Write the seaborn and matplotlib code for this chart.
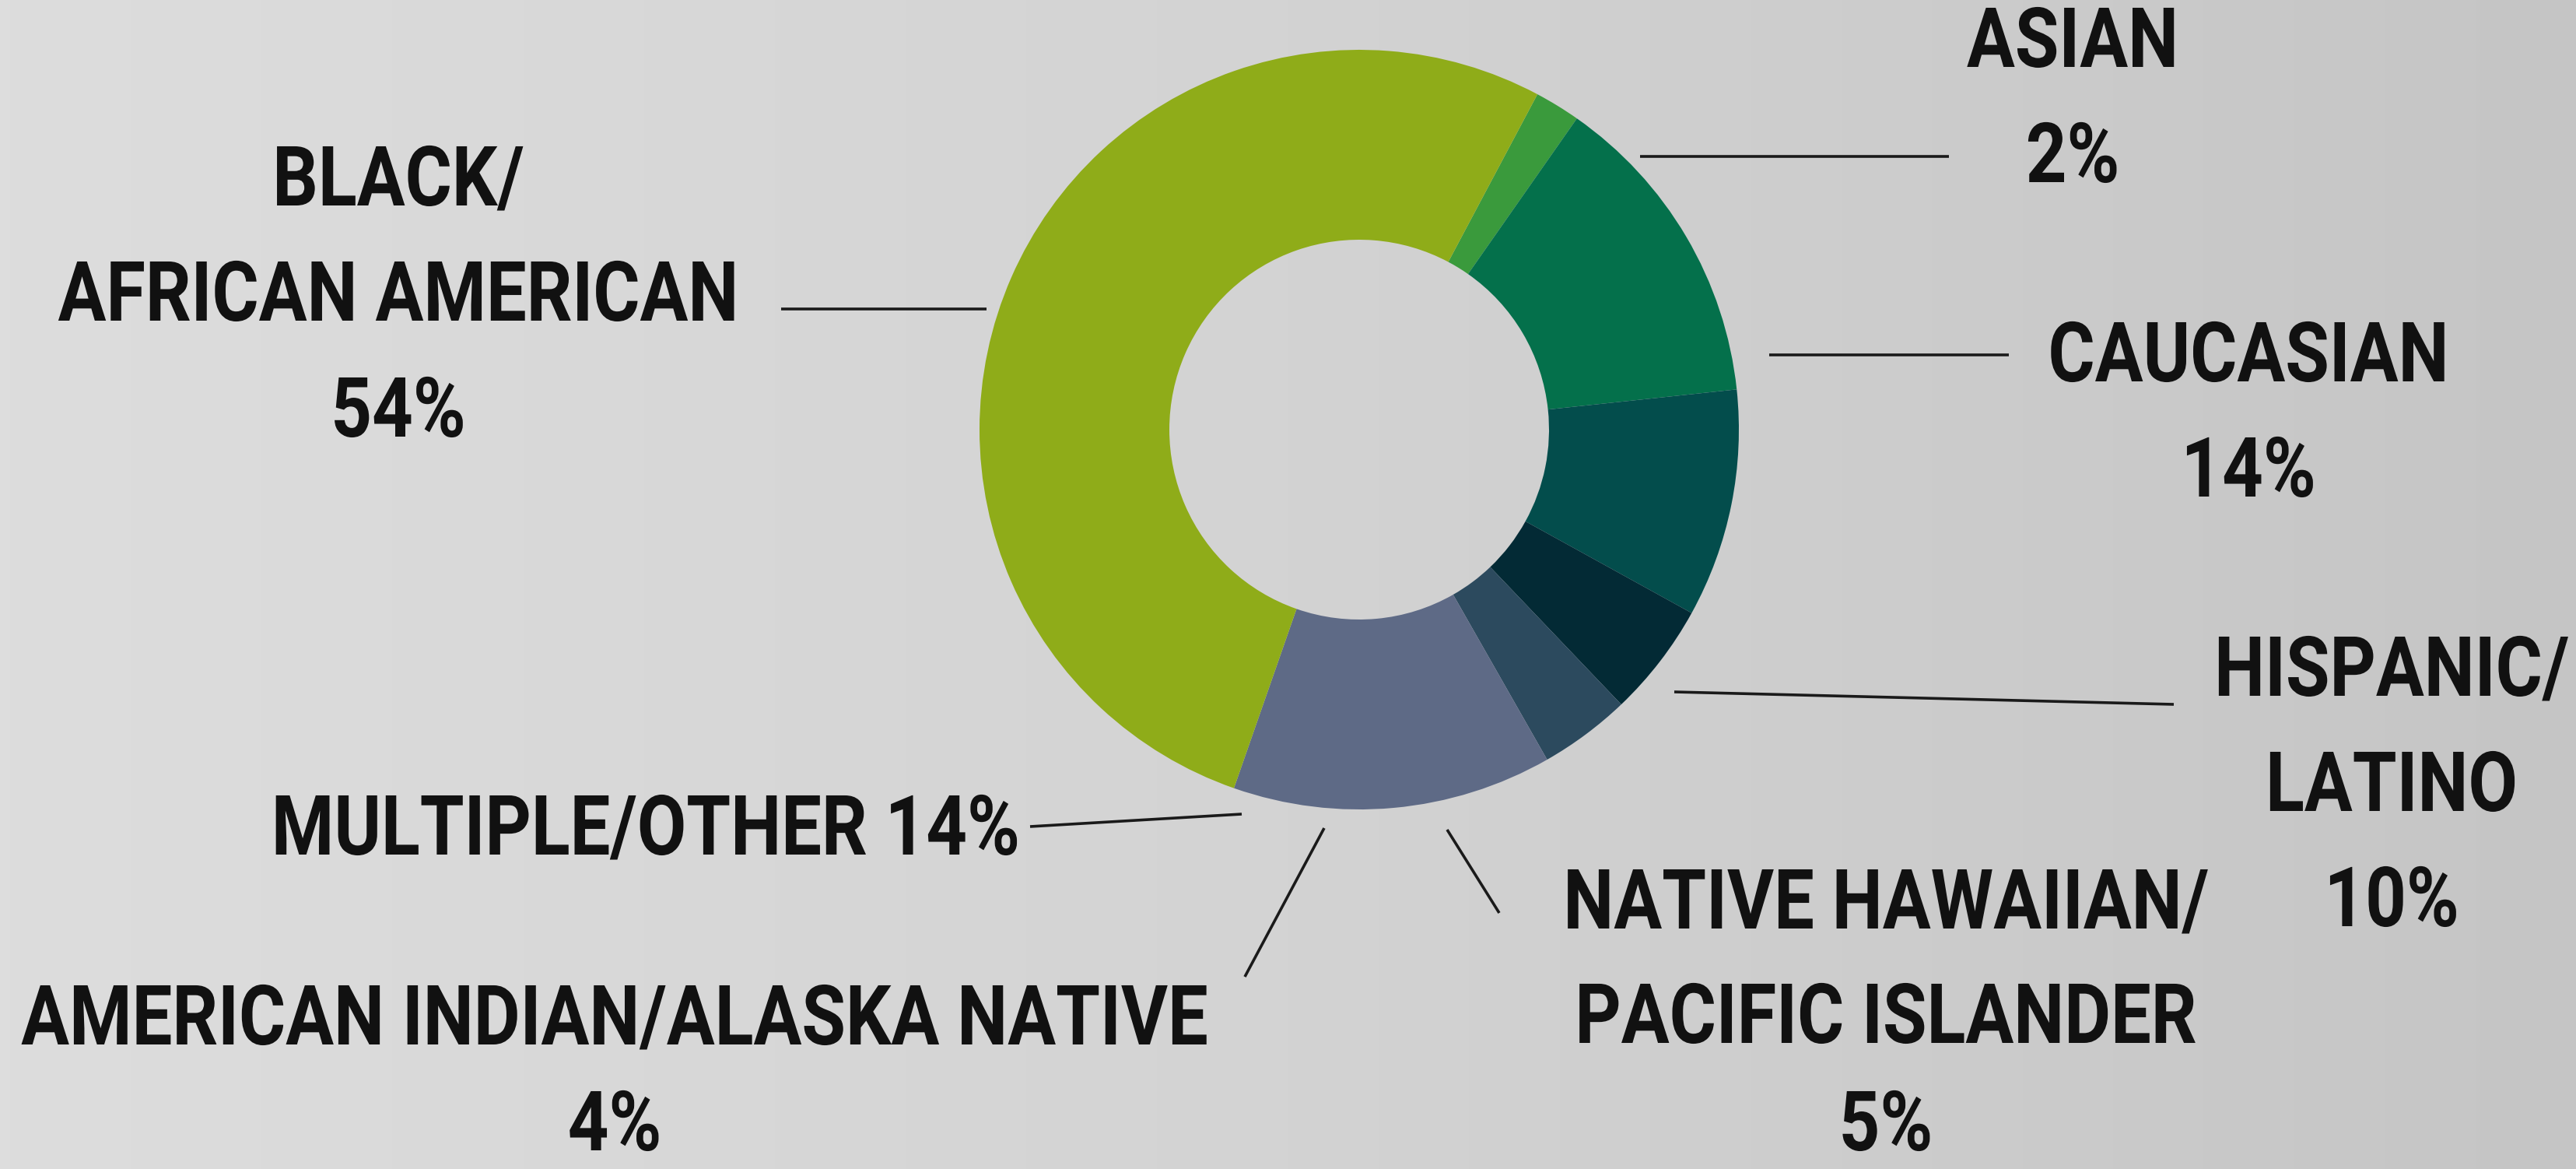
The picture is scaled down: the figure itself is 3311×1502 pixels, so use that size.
import numpy as np
import pandas as pd
import seaborn as sns
import matplotlib
matplotlib.use("Agg")
import matplotlib.pyplot as plt
from matplotlib import font_manager
from matplotlib.font_manager import FontProperties
from matplotlib.patheffects import AbstractPathEffect
from matplotlib.transforms import Affine2D, Bbox
from matplotlib.text import Text

# ---------------- data ----------------
categories = ["Asian", "Caucasian", "Hispanic/Latino", "Native Hawaiian/Pacific Islander",
              "American Indian/Alaska Native", "Multiple/Other", "Black/African American"]
percents = [2, 14, 10, 5, 4, 14, 54]
slice_colors = ["#3a9a3c", "#04704b", "#034d4c", "#032a35", "#2c4a5e", "#5e6a86", "#8fac19"]

label_texts = {
    "Black/African American": ["BLACK/", "AFRICAN AMERICAN", "54%"],
    "Multiple/Other": ["MULTIPLE/OTHER 14%"],
    "American Indian/Alaska Native": ["AMERICAN INDIAN/ALASKA NATIVE", "4%"],
    "Native Hawaiian/Pacific Islander": ["NATIVE HAWAIIAN/", "PACIFIC ISLANDER", "5%"],
    "Hispanic/Latino": ["HISPANIC/", "LATINO", "10%"],
    "Caucasian": ["CAUCASIAN", "14%"],
    "Asian": ["ASIAN", "2%"],
}

df = pd.DataFrame({"category": categories, "percent": percents, "color": slice_colors})

# ---------------- style ----------------
sns.set_theme(style="white")
names = {f.name for f in font_manager.fontManager.ttflist}
base_font = "Roboto" if "Roboto" in names else "DejaVu Sans"
plt.rcParams["font.family"] = [base_font, "DejaVu Sans"]

W, H = 3311, 1502
fig = plt.figure(figsize=(W / 100, H / 100), dpi=100)
ax = fig.add_axes([0, 0, 1, 1])

# background (concrete-like light gray, slightly darker to the right)
grad = np.linspace(0, 1, 256)[None, :]
bg_cmap = matplotlib.colors.LinearSegmentedColormap.from_list("bg", ["#dddddd", "#d3d3d3", "#c5c5c5"])
ax.imshow(grad, extent=[0, W, 0, H], cmap=bg_cmap, aspect="auto", zorder=0)

# donut
cx, cy, R = 1747, H - 552, 488
wedges, _ = ax.pie(df["percent"], colors=sns.color_palette(df["color"].tolist()),
                   startangle=62, counterclock=False, radius=R, center=(cx, cy),
                   wedgeprops=dict(width=R * 0.5, linewidth=0))
for w in wedges:
    w.set_zorder(2)

ax.set_xlim(0, W)
ax.set_ylim(0, H)
ax.set_aspect("equal")
ax.axis("off")


# condensed-style rendering of real text: vertical stretch (and slight x scale)
# about the text anchor, so the glyphs look like a tall condensed bold face
class Stretch(AbstractPathEffect):
    def __init__(self, sx, sy, text):
        super().__init__()
        self._sx, self._sy, self._text = sx, sy, text

    def draw_path(self, renderer, gc, tpath, affine, rgbFace=None):
        x0, y0 = self._text._anchor()
        t = affine + Affine2D().translate(-x0, -y0).scale(self._sx, self._sy).translate(x0, y0)
        renderer.draw_path(gc, tpath, t, rgbFace)


class CondensedText(Text):
    def __init__(self, *args, sx=1.0, sy=1.0, **kwargs):
        super().__init__(*args, **kwargs)
        self._sx, self._sy = sx, sy
        self.set_path_effects([Stretch(sx, sy, self)])

    def _anchor(self):
        return self.get_transform().transform(self.get_unitless_position())

    def get_window_extent(self, renderer=None, dpi=None):
        bb = super().get_window_extent(renderer, dpi)
        x0, y0 = self._anchor()
        return Bbox.from_extents(x0 + (bb.x0 - x0) * self._sx, y0 + (bb.y0 - y0) * self._sy,
                                 x0 + (bb.x1 - x0) * self._sx, y0 + (bb.y1 - y0) * self._sy)


# ---------------- labels ----------------
def Y(p):
    return H - p


txt_color = "#111111"
base_size = 66
target_size = 77
squeeze = 0.86
sx = squeeze * target_size / base_size
sy = target_size / base_size
fp = FontProperties(family=[base_font, "DejaVu Sans"], weight="bold", size=base_size)

# (x-center, baselines in pixel rows)
layout = {
    "Black/African American": (512, [264, 412, 561]),
    "Multiple/Other": (830, [1098]),
    "American Indian/Alaska Native": (790, [1342, 1478]),
    "Native Hawaiian/Pacific Islander": (2424, [1193, 1340, 1478]),
    "Hispanic/Latino": (3074, [894, 1042, 1190]),
    "Caucasian": (2890, [490, 638]),
    "Asian": (2664, [86, 234]),
}
for cat, (x, baselines) in layout.items():
    for line, b in zip(label_texts[cat], baselines):
        t = CondensedText(x, Y(b), line, ha="center", va="baseline", fontproperties=fp,
                          color=txt_color, zorder=3, sx=sx, sy=sy)
        t.set_transform(ax.transData)
        t.set_clip_on(False)
        ax.add_artist(t)

leaders = {
    "Black/African American": [(1004, 397), (1268, 397)],
    "Multiple/Other": [(1324, 1062), (1596, 1046)],
    "American Indian/Alaska Native": [(1702, 1064), (1600, 1255)],
    "Native Hawaiian/Pacific Islander": [(1860, 1066), (1927, 1173)],
    "Hispanic/Latino": [(2152, 889), (2794, 905)],
    "Caucasian": [(2274, 456), (2582, 456)],
    "Asian": [(2108, 201), (2505, 201)],
}
for cat, pts in leaders.items():
    xs = [p[0] for p in pts]
    ys = [Y(p[1]) for p in pts]
    ax.plot(xs, ys, color="#1a1a1a", lw=2.6, solid_capstyle="butt", zorder=3)

fig.savefig("out.png", dpi=100)
